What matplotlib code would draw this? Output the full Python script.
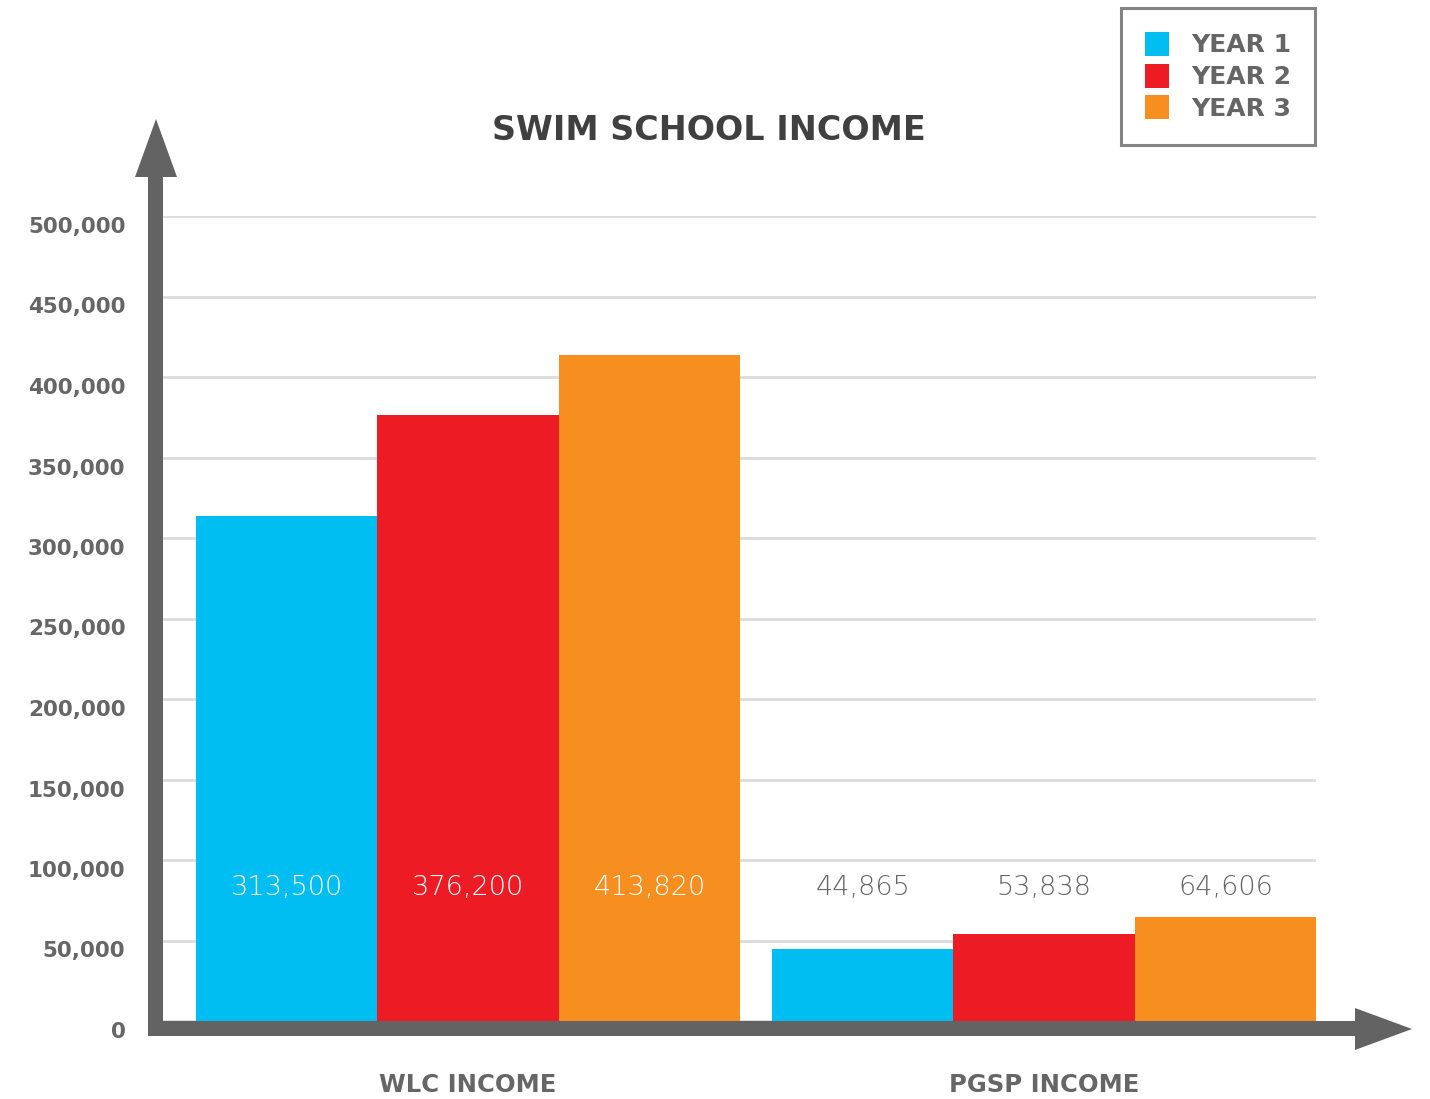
import numpy as np
import matplotlib
matplotlib.use("Agg")
import matplotlib.pyplot as plt
import matplotlib.transforms as mtrans
from matplotlib.patches import Polygon

# --- data ---
categories = ["WLC INCOME", "PGSP INCOME"]
series_names = ["YEAR 1", "YEAR 2", "YEAR 3"]
year1 = [313500, 44865]
year2 = [376200, 53838]
year3 = [413820, 64606]
value_labels = [["313,500", "44,865"], ["376,200", "53,838"], ["413,820", "64,606"]]
y_ticks = [0, 50000, 100000, 150000, 200000, 250000, 300000, 350000, 400000, 450000, 500000]

colors = ["#00BEF2", "#ED1C24", "#F68E20"]
axis_gray = "#636363"
text_gray = "#666666"

W, H = 1430, 1099
fig = plt.figure(figsize=(W / 100, H / 100), dpi=100)
fig.patch.set_facecolor("white")


def px(x, y):
    # pixel coords (top-left origin) -> figure fraction
    return (x / W, 1 - y / H)


left, right, bottom, top = 163, 1316, 1021, 216
ax = fig.add_axes([left / W, 1 - bottom / H, (right - left) / W, (bottom - top) / H])
ax.set_ylim(0, 500000)
ax.set_xlim(-0.5295, 1.4722)
for s in ax.spines.values():
    s.set_visible(False)
ax.set_xticks([])
ax.set_yticks(y_ticks)
ax.tick_params(axis="y", length=0, pad=27)
ax.set_yticklabels([f"{t:,}" for t in y_ticks], fontsize=15.5, fontweight="bold",
                   color=text_gray, family="DejaVu Sans")
# shift tick labels down slightly like the original
offset = mtrans.ScaledTranslation(0, -9 / 100, fig.dpi_scale_trans)
for lab in ax.get_yticklabels():
    lab.set_transform(lab.get_transform() + offset)
ax.grid(axis="y", color="#dcdcdc", linewidth=2)
ax.set_axisbelow(True)

x = np.arange(len(categories))
w = 0.3148
series = [year1, year2, year3]
bars = []
for i, vals in enumerate(series):
    b = ax.bar(x + (i - 1) * w, vals, width=w, color=colors[i], linewidth=0,
               label=series_names[i], zorder=2)
    bars.append(b)

# value labels
for i in range(3):
    for j in range(len(categories)):
        c = "white" if j == 0 else text_gray
        ax.text(x[j] + (i - 1) * w, 83000, value_labels[i][j], ha="center", va="center",
                fontsize=19.5, color=c, family="DejaVu Sans", fontweight="light", zorder=3)

# category labels
for j, cat in enumerate(categories):
    ax.text(x[j], -40000, cat, ha="center", va="center", fontsize=17.5,
            fontweight="bold", color=text_gray, family="DejaVu Sans", clip_on=False)

# axis arrows
vert = [px(148, 1036), px(148, 177), px(135, 177), px(156, 119), px(177, 177),
        px(163, 177), px(163, 1036)]
horiz = [px(148, 1021), px(1355, 1021), px(1355, 1008), px(1412, 1029),
         px(1355, 1050), px(1355, 1036), px(148, 1036)]
for pts in (vert, horiz):
    fig.patches.append(Polygon(pts, closed=True, transform=fig.transFigure,
                               facecolor=axis_gray, edgecolor="none", zorder=5))

# title
fig.text(*px(709, 130), "SWIM SCHOOL INCOME", ha="center", va="center",
         fontsize=24, fontweight="bold", color="#404040", family="DejaVu Sans")

# legend
leg = fig.legend(handles=bars, labels=series_names, loc="upper left",
                 bbox_to_anchor=px(1121, 8), frameon=True, fancybox=False,
                 prop={"size": 18, "weight": "bold", "family": "DejaVu Sans"},
                 handlelength=0.95, handleheight=1.1, handletextpad=0.9,
                 labelspacing=0.25, borderpad=0.95, borderaxespad=0)
leg.get_frame().set_edgecolor(text_gray)
leg.get_frame().set_linewidth(2.2)
for t in leg.get_texts():
    t.set_color(text_gray)

fig.savefig("out.png", dpi=100, facecolor="white")
